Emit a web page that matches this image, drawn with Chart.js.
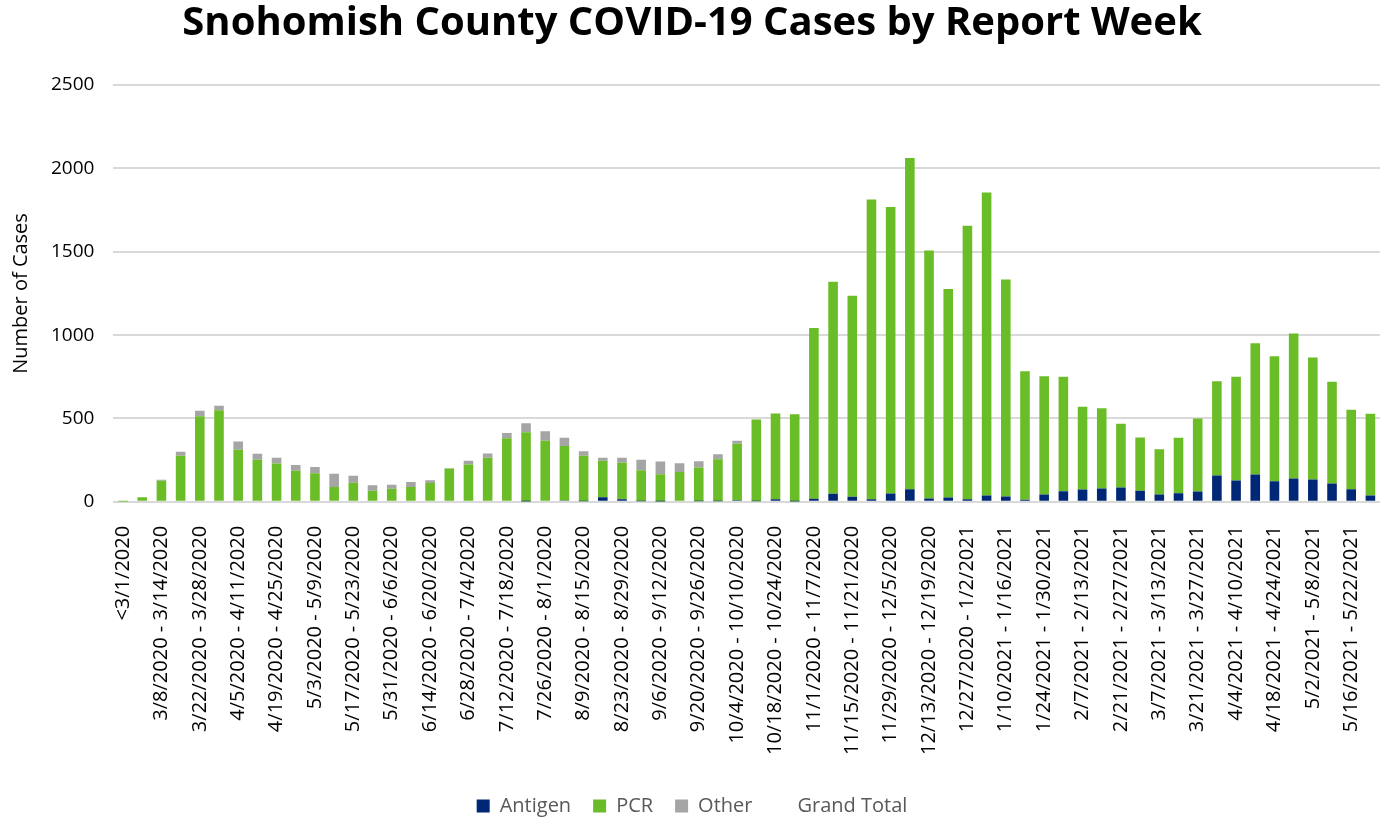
<!DOCTYPE html>
<html>
<head>
<meta charset="utf-8">
<script src="https://cdn.jsdelivr.net/npm/chart.js@4/dist/chart.umd.min.js"></script>
<style>
  html, body { margin: 0; padding: 0; background: #fff; }
  #wrap { width: 1390px; height: 820px; position: relative; }
</style>
</head>
<body>
<div id="wrap"><canvas id="grafico"></canvas></div>
<script>
const weeks = [
  '<3/1/2020',
  '3/1/2020 - 3/7/2020', '3/8/2020 - 3/14/2020', '3/15/2020 - 3/21/2020', '3/22/2020 - 3/28/2020',
  '3/29/2020 - 4/4/2020', '4/5/2020 - 4/11/2020', '4/12/2020 - 4/18/2020', '4/19/2020 - 4/25/2020',
  '4/26/2020 - 5/2/2020', '5/3/2020 - 5/9/2020', '5/10/2020 - 5/16/2020', '5/17/2020 - 5/23/2020',
  '5/24/2020 - 5/30/2020', '5/31/2020 - 6/6/2020', '6/7/2020 - 6/13/2020', '6/14/2020 - 6/20/2020',
  '6/21/2020 - 6/27/2020', '6/28/2020 - 7/4/2020', '7/5/2020 - 7/11/2020', '7/12/2020 - 7/18/2020',
  '7/19/2020 - 7/25/2020', '7/26/2020 - 8/1/2020', '8/2/2020 - 8/8/2020', '8/9/2020 - 8/15/2020',
  '8/16/2020 - 8/22/2020', '8/23/2020 - 8/29/2020', '8/30/2020 - 9/5/2020', '9/6/2020 - 9/12/2020',
  '9/13/2020 - 9/19/2020', '9/20/2020 - 9/26/2020', '9/27/2020 - 10/3/2020', '10/4/2020 - 10/10/2020',
  '10/11/2020 - 10/17/2020', '10/18/2020 - 10/24/2020', '10/25/2020 - 10/31/2020', '11/1/2020 - 11/7/2020',
  '11/8/2020 - 11/14/2020', '11/15/2020 - 11/21/2020', '11/22/2020 - 11/28/2020', '11/29/2020 - 12/5/2020',
  '12/6/2020 - 12/12/2020', '12/13/2020 - 12/19/2020', '12/20/2020 - 12/26/2020', '12/27/2020 - 1/2/2021',
  '1/3/2021 - 1/9/2021', '1/10/2021 - 1/16/2021', '1/17/2021 - 1/23/2021', '1/24/2021 - 1/30/2021',
  '1/31/2021 - 2/6/2021', '2/7/2021 - 2/13/2021', '2/14/2021 - 2/20/2021', '2/21/2021 - 2/27/2021',
  '2/28/2021 - 3/6/2021', '3/7/2021 - 3/13/2021', '3/14/2021 - 3/20/2021', '3/21/2021 - 3/27/2021',
  '3/28/2021 - 4/3/2021', '4/4/2021 - 4/10/2021', '4/11/2021 - 4/17/2021', '4/18/2021 - 4/24/2021',
  '4/25/2021 - 5/1/2021', '5/2/2021 - 5/8/2021', '5/9/2021 - 5/15/2021', '5/16/2021 - 5/22/2021',
  '5/23/2021 - 5/29/2021'
];

const antigen = [
  0, 0, 0, 0, 0, 0, 0, 0, 0, 0, 0, 0, 0, 0, 0, 0, 0, 0, 0, 0, 0, 2,
  0, 8, 4, 28, 16, 4, 2, 0, 4, 4, 10, 4, 16, 2, 18, 48, 30, 16, 50, 76,
  20, 26, 16, 38, 32, 12, 44, 64, 74, 80, 86, 66, 44, 52, 62, 158, 128, 164, 124, 140,
  134, 110, 76, 38
];

const pcr = [
  1, 27, 127, 276, 514, 550, 312, 252, 230, 187, 171, 89, 115, 67, 79, 89, 113, 200, 224, 264, 381, 415,
  367, 327, 272, 218, 218, 185, 163, 179, 202, 252, 339, 490, 514, 524, 1024, 1272, 1206, 1798, 1718, 1986,
  1488, 1250, 1640, 1818, 1302, 772, 710, 686, 496, 482, 382, 320, 272, 332, 438, 566, 622, 788, 750, 870,
  732, 610, 476, 490
];

const other = [
  0, 0, 6, 24, 32, 26, 50, 36, 34, 34, 38, 79, 42, 32, 24, 30, 16, 2, 22, 26, 32, 54,
  56, 50, 28, 18, 30, 64, 77, 52, 38, 30, 18, 0, 0, 0, 0, 0, 0, 0, 0, 0,
  0, 0, 0, 0, 0, 0, 0, 0, 0, 0, 0, 0, 0, 0, 0, 0, 0, 0, 0, 0,
  0, 0, 0, 0
];

const yTicks = [0, 500, 1000, 1500, 2000, 2500];

const grandTotal = weeks.map((w, i) => antigen[i] + pcr[i] + other[i]);

const fuente = "'Open Sans', 'Noto Sans', sans-serif";

const ctx = document.getElementById('grafico').getContext('2d');
new Chart(ctx, {
  type: 'bar',
  data: {
    labels: weeks,
    datasets: [
      { label: 'Antigen', data: antigen, backgroundColor: '#002776', stack: 'cases',
        barPercentage: 1, categoryPercentage: 0.5 },
      { label: 'PCR', data: pcr, backgroundColor: '#6bbd27', stack: 'cases',
        barPercentage: 1, categoryPercentage: 0.5 },
      { label: 'Other', data: other, backgroundColor: '#a5a5a5', stack: 'cases',
        barPercentage: 1, categoryPercentage: 0.5 },
      { label: 'Grand Total', type: 'line', data: grandTotal, stack: 'total',
        showLine: false, pointRadius: 0, pointHoverRadius: 0,
        borderColor: 'rgba(0,0,0,0)', backgroundColor: 'rgba(0,0,0,0)' }
    ]
  },
  options: {
    responsive: true,
    maintainAspectRatio: false,
    animation: false,
    layout: { padding: { left: 4, right: 10, top: 0, bottom: -6 } },
    plugins: {
      title: {
        display: true,
        text: 'Snohomish County COVID-19 Cases by Report Week',
        color: '#000',
        font: { family: fuente, size: 40, weight: 'bold' },
        padding: { top: 0, bottom: 37 }
      },
      legend: {
        position: 'bottom',
        labels: {
          color: '#595959',
          font: { family: fuente, size: 20 },
          boxWidth: 13,
          boxHeight: 13,
          padding: 22
        }
      },
      tooltip: { enabled: false }
    },
    scales: {
      x: {
        stacked: true,
        grid: { display: false },
        border: { display: false },
        afterFit: axis => {
          axis.height += 3;
          axis.paddingRight = 0;
        },
        ticks: {
          autoSkip: false,
          maxRotation: 90,
          minRotation: 90,
          padding: 16,
          color: '#000',
          font: { family: fuente, size: 20 },
          callback: function(value, index) {
            return index % 2 === 0 ? this.getLabelForValue(value) : '';
          }
        }
      },
      y: {
        stacked: true,
        min: 0,
        max: 2500,
        afterBuildTicks: axis => { axis.ticks = yTicks.map(v => ({ value: v })); },
        grid: { color: '#d9d9d9', lineWidth: 2, drawTicks: false },
        border: { display: false },
        ticks: {
          padding: 19,
          color: '#000',
          font: { family: fuente, size: 19 },
          callback: value => String(value)
        },
        title: {
          display: true,
          text: 'Number of Cases',
          color: '#000',
          font: { family: fuente, size: 20 },
          padding: { top: 5, bottom: -1 }
        }
      }
    }
  }
});
</script>
</body>
</html>
